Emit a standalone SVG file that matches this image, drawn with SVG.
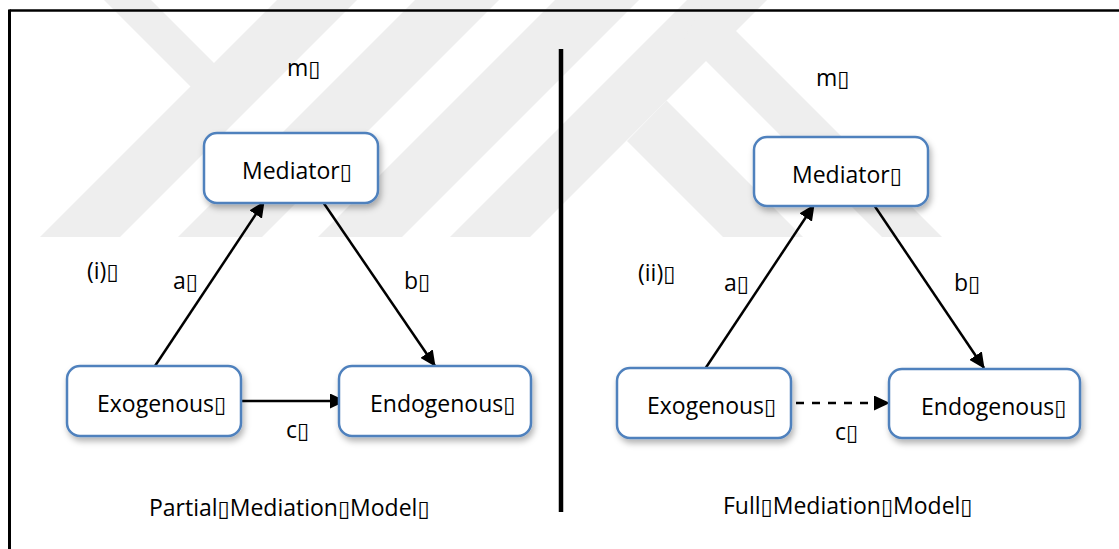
<svg xmlns="http://www.w3.org/2000/svg" width="1119" height="549" viewBox="0 0 1119 549">
<style>
.wm{fill:#eeeeee}
.box{fill:#fff;stroke:#4f81bd;stroke-width:2.5;filter:url(#sh)}
.t{font-family:"Open Sans","Noto Sans",sans-serif;font-size:23px;fill:#000}
.q{font-family:"DejaVu Sans",sans-serif;font-size:22px}
.ln{stroke:#000;stroke-width:2.5;fill:none;marker-end:url(#ah)}
.dash{stroke-dasharray:8 8}
.frame{stroke:#000;fill:none}
</style>
<defs>
<filter id="sh" x="-20%" y="-20%" width="140%" height="160%">
<feDropShadow dx="2" dy="4" stdDeviation="3" flood-color="#000" flood-opacity="0.3"/>
</filter>
<marker id="ah" markerUnits="userSpaceOnUse" markerWidth="16" markerHeight="15" refX="15" refY="7.5" orient="auto">
<path d="M0,0 L16,7.5 L0,15 z" fill="#000"/>
</marker>
</defs>
<rect width="1119" height="549" fill="#fff"/>
<g id="watermark">
<polygon class="wm" points="104,0 151,0 214,63 277,0 357,0 120,237 40,237 190.5,86.5"/>
<polygon class="wm" points="415,0 499,0 262,237 178,237"/>
<polygon class="wm" points="555,0 639,0 402,237 318,237"/>
<polygon class="wm" points="687,0 767,0 530,237 450,237"/>
<polygon class="wm" points="705,0 942,237 882,237 684,39"/>
<polygon class="wm" points="666.5,100.5 803,237 723,237 627,141"/>
</g>
<g id="frame">
<line class="frame" x1="9.5" y1="10.5" x2="1119" y2="10.5" stroke-width="2.5"/>
<line class="frame" x1="9.5" y1="9.5" x2="9.5" y2="549" stroke-width="3"/>
<line class="frame" x1="561" y1="49" x2="561" y2="512" stroke-width="4.5"/>
</g>
<g id="connectors">
<line class="ln" x1="155" y1="366" x2="264" y2="202"/>
<line class="ln" x1="323" y1="202" x2="435" y2="366"/>
<line class="ln" x1="241" y1="401" x2="345" y2="401"/>
<line class="ln" x1="705" y1="369" x2="814" y2="205"/>
<line class="ln" x1="874" y1="205" x2="984" y2="368"/>
<line class="ln dash" x1="796" y1="403" x2="889" y2="403"/>
</g>
<g id="mediator-left">
<rect class="box" x="204" y="133" width="174" height="70" rx="13"/>
<text class="t" x="242" y="179">Mediator<tspan class="q">▯</tspan></text>
</g>
<g id="exogenous-left">
<rect class="box" x="67" y="366" width="174" height="70" rx="13"/>
<text class="t" x="97" y="412">Exogenous<tspan class="q">▯</tspan></text>
</g>
<g id="endogenous-left">
<rect class="box" x="339" y="366" width="192" height="70" rx="13"/>
<text class="t" x="370" y="412">Endogenous<tspan class="q">▯</tspan></text>
</g>
<g id="mediator-right">
<rect class="box" x="754" y="137" width="174" height="69" rx="13"/>
<text class="t" x="792" y="183">Mediator<tspan class="q">▯</tspan></text>
</g>
<g id="exogenous-right">
<rect class="box" x="617" y="368" width="174" height="70" rx="13"/>
<text class="t" x="647" y="414">Exogenous<tspan class="q">▯</tspan></text>
</g>
<g id="endogenous-right">
<rect class="box" x="889" y="369" width="191" height="69" rx="13"/>
<text class="t" x="921" y="415">Endogenous<tspan class="q">▯</tspan></text>
</g>
<g id="labels">
<text class="t" x="287" y="76">m<tspan class="q">▯</tspan></text>
<text class="t" x="87" y="279">(i)<tspan class="q">▯</tspan></text>
<text class="t" x="173" y="289">a<tspan class="q">▯</tspan></text>
<text class="t" x="404" y="289">b<tspan class="q">▯</tspan></text>
<text class="t" x="286" y="438">c<tspan class="q">▯</tspan></text>
<text class="t" x="149" y="516">Partial<tspan class="q">▯</tspan>Mediation<tspan class="q">▯</tspan>Model<tspan class="q">▯</tspan></text>
<text class="t" x="816" y="86">m<tspan class="q">▯</tspan></text>
<text class="t" x="638" y="281">(ii)<tspan class="q">▯</tspan></text>
<text class="t" x="724" y="291">a<tspan class="q">▯</tspan></text>
<text class="t" x="954" y="291">b<tspan class="q">▯</tspan></text>
<text class="t" x="835" y="440">c<tspan class="q">▯</tspan></text>
<text class="t" x="723" y="514">Full<tspan class="q">▯</tspan>Mediation<tspan class="q">▯</tspan>Model<tspan class="q">▯</tspan></text>
</g>
</svg>
